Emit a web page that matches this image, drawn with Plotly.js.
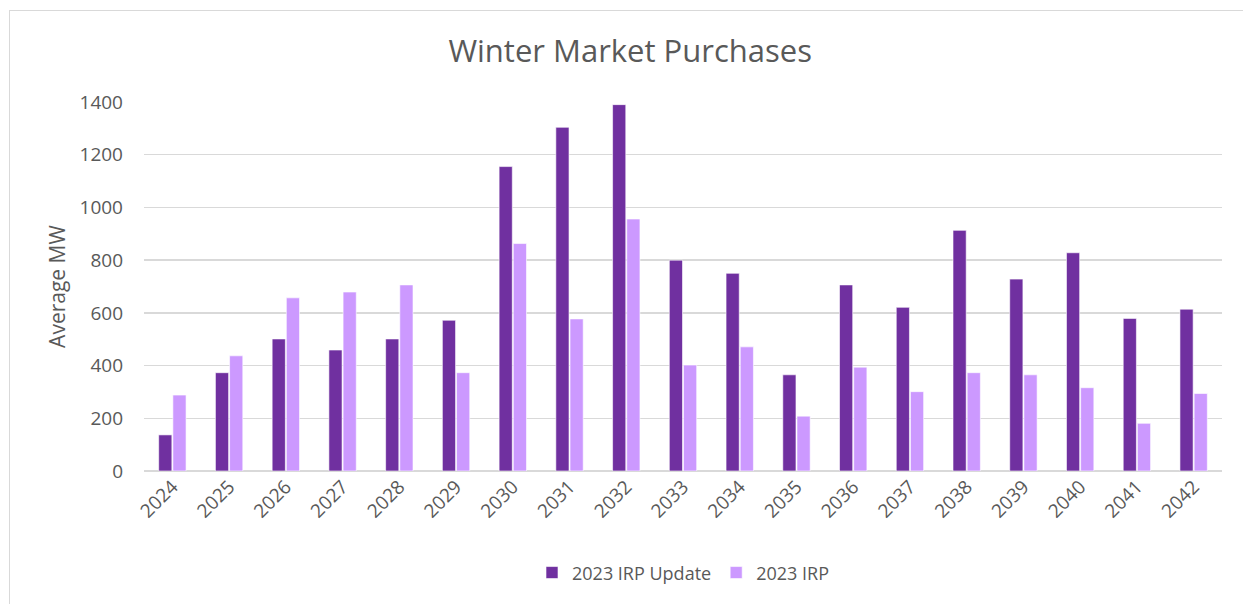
<!DOCTYPE html>
<html>
<head>
<meta charset="utf-8">
<script src="https://cdn.plot.ly/plotly-3.0.1.min.js"></script>
<style>
  html, body { margin: 0; padding: 0; background: #ffffff; }
  #wrap { position: relative; width: 1243px; height: 604px; overflow: hidden; }
  #chart { position: absolute; left: 0; top: 0; width: 1243px; height: 604px; }
  #frame { position: absolute; left: 9px; top: 10px; width: 1240px; height: 700px;
           border: 1px solid #d9d9d9; pointer-events: none; box-sizing: border-box; }
</style>
</head>
<body>
<div id="wrap">
  <div id="chart"></div>
  <div id="frame"></div>
</div>
<script>
const years = ["2024","2025","2026","2027","2028","2029","2030","2031","2032","2033",
               "2034","2035","2036","2037","2038","2039","2040","2041","2042"];
const irpUpdate = [137, 373, 501, 459, 501, 572, 1155, 1304, 1390, 800,
                   750, 365, 706, 621, 913, 728, 828, 579, 614];
const irp = [288, 437, 657, 679, 706, 373, 863, 577, 956, 402,
             471, 208, 394, 301, 373, 365, 316, 181, 294];
const yTicks = [0, 200, 400, 600, 800, 1000, 1200, 1400];

const FONT = "Open Sans, Liberation Sans, sans-serif";
const GRAY = "#595959";

const traces = [
  { type: "bar", name: "2023 IRP Update", x: years, y: irpUpdate,
    marker: { color: "#7030A0", line: { color: "#ffffff", width: 0.6 } } },
  { type: "bar", name: "2023 IRP", x: years, y: irp,
    marker: { color: "#CC99FF", line: { color: "#ffffff", width: 0.6 } } }
];

const layout = {
  width: 1243, height: 604,
  margin: { l: 144, r: 21, t: 102, b: 133 },
  paper_bgcolor: "rgba(0,0,0,0)",
  plot_bgcolor: "#ffffff",
  barmode: "group",
  bargap: 0.5,
  bargroupgap: 0.07,
  title: { text: "Winter Market Purchases", x: 0.507, xanchor: "center",
           y: 0.915, yanchor: "middle",
           font: { family: "Liberation Sans Narrow, Open Sans, sans-serif", size: 31, color: GRAY } },
  xaxis: {
    type: "category", tickangle: -45, showgrid: false, showline: false,
    ticks: "", tickfont: { family: FONT, size: 19, color: GRAY }, automargin: false
  },
  yaxis: {
    range: [0, 1400], tickvals: yTicks, ticktext: yTicks.map(String),
    showgrid: true, gridcolor: "#d9d9d9", gridwidth: 1.5,
    zeroline: true, zerolinecolor: "#d9d9d9", zerolinewidth: 1.5,
    showline: false, ticks: "", ticklabelstandoff: 20,
    tickfont: { family: FONT, size: 19, color: GRAY },
    title: { text: "Average MW", standoff: 8, font: { family: FONT, size: 21, color: GRAY } },
    automargin: false
  },
  showlegend: true,
  legend: { orientation: "h", x: 0.5, xanchor: "center", y: -0.276, yanchor: "middle",
            font: { family: FONT, size: 18, color: GRAY }, itemwidth: 30, traceorder: "normal" }
};

Plotly.newPlot("chart", traces, layout, { displayModeBar: false, staticPlot: true });
</script>
</body>
</html>
